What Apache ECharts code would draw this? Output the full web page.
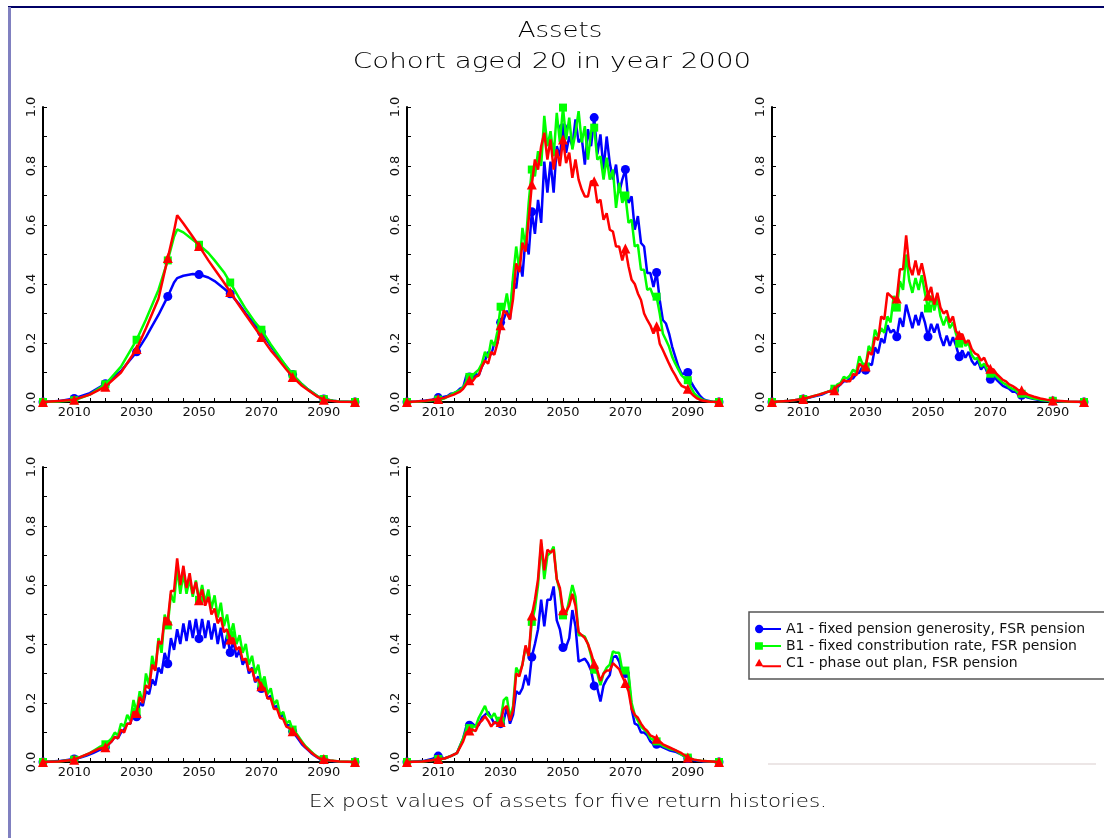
<!DOCTYPE html>
<html><head><meta charset="utf-8">
<script src="https://cdn.jsdelivr.net/npm/echarts@6/dist/echarts.min.js"></script>
<style>html,body{margin:0;padding:0;background:#fff}#c{width:1104px;height:838px}</style>
</head><body><div id="c"></div>
<script>
// ---------- data ----------
const seriesNames = ['A1 - fixed pension generosity, FSR pension','B1 - fixed constribution rate, FSR pension','C1 - phase out plan, FSR pension'];
const xLabelYears = [2010,2030,2050,2070,2090];
const titleLines = ['Assets','Cohort aged 20 in year 2000'];
const footText = 'Ex post values of assets for five return histories.';

// Panel 1
const p1A = [[2000,0],[2005,0.003],[2010,0.012],[2015,0.03],[2020,0.062],[2025,0.105],[2030,0.17],[2033,0.22],[2035,0.258],[2037,0.295],[2040,0.358],[2042,0.405],[2043,0.42],[2045,0.428],[2048,0.434],[2050,0.432],[2053,0.422],[2055,0.41],[2058,0.385],[2060,0.367],[2063,0.33],[2065,0.3],[2068,0.26],[2070,0.237],[2073,0.19],[2075,0.16],[2078,0.12],[2080,0.093],[2083,0.06],[2085,0.042],[2088,0.02],[2090,0.01],[2093,0.004],[2095,0.002],[2100,0]];
const p1B = [[2000,0],[2005,0.002],[2010,0.006],[2015,0.025],[2020,0.06],[2025,0.12],[2030,0.211],[2033,0.28],[2035,0.33],[2037,0.38],[2040,0.48],[2042,0.56],[2043,0.585],[2045,0.575],[2048,0.55],[2050,0.533],[2053,0.505],[2055,0.48],[2058,0.44],[2060,0.405],[2063,0.35],[2065,0.315],[2068,0.27],[2070,0.245],[2073,0.195],[2075,0.165],[2078,0.12],[2080,0.094],[2083,0.06],[2085,0.042],[2088,0.02],[2090,0.01],[2093,0.004],[2095,0.002],[2100,0]];
const p1C = [[2000,0],[2005,0.003],[2010,0.008],[2015,0.025],[2020,0.052],[2025,0.1],[2030,0.18],[2033,0.25],[2035,0.3],[2037,0.35],[2040,0.488],[2042,0.58],[2043,0.633],[2045,0.605],[2048,0.56],[2050,0.529],[2053,0.48],[2055,0.45],[2058,0.405],[2060,0.373],[2063,0.325],[2065,0.295],[2068,0.25],[2070,0.22],[2073,0.175],[2075,0.15],[2078,0.11],[2080,0.085],[2083,0.055],[2085,0.04],[2088,0.018],[2090,0.008],[2093,0.003],[2095,0.001],[2100,0]];

// Panel 2
const p2A = [[2000,0],[2003,0.002],[2006,0.005],[2008,0.008],[2009,0.01],[2010,0.015],[2011,0.012],[2012,0.018],[2013,0.02],[2014,0.028],[2015,0.03],[2016,0.035],[2017,0.045],[2018,0.05],[2019,0.088],[2020,0.085],[2021,0.075],[2022,0.095],[2023,0.09],[2024,0.12],[2025,0.14],[2026,0.17],[2027,0.16],[2028,0.2],[2029,0.2],[2030,0.27],[2031,0.28],[2032,0.31],[2033,0.28],[2034,0.41],[2035,0.385],[2036,0.48],[2037,0.425],[2038,0.56],[2039,0.5],[2040,0.645],[2041,0.57],[2042,0.685],[2043,0.607],[2044,0.815],[2045,0.71],[2046,0.815],[2047,0.71],[2048,0.867],[2049,0.833],[2050,0.93],[2051,0.845],[2052,0.9],[2053,0.867],[2054,0.958],[2055,0.88],[2056,0.895],[2057,0.805],[2058,0.925],[2059,0.867],[2060,0.964],[2061,0.84],[2062,0.907],[2063,0.788],[2064,0.9],[2065,0.81],[2066,0.754],[2067,0.805],[2068,0.709],[2069,0.754],[2070,0.788],[2071,0.675],[2072,0.697],[2073,0.584],[2074,0.63],[2075,0.539],[2076,0.527],[2077,0.437],[2078,0.437],[2079,0.39],[2080,0.439],[2081,0.346],[2082,0.278],[2083,0.266],[2084,0.232],[2085,0.187],[2086,0.153],[2087,0.119],[2088,0.096],[2089,0.096],[2090,0.1],[2091,0.068],[2092,0.05],[2093,0.035],[2094,0.02],[2095,0.01],[2096,0.005],[2098,0.001],[2100,0]];
const p2B = [[2000,0],[2003,0.001],[2006,0.003],[2010,0.008],[2012,0.012],[2015,0.03],[2017,0.04],[2018,0.05],[2019,0.07],[2020,0.085],[2021,0.09],[2022,0.1],[2023,0.11],[2024,0.13],[2025,0.17],[2026,0.15],[2027,0.21],[2028,0.19],[2029,0.24],[2030,0.323],[2031,0.31],[2032,0.368],[2033,0.3],[2034,0.425],[2035,0.527],[2036,0.448],[2037,0.59],[2038,0.527],[2039,0.675],[2040,0.788],[2041,0.765],[2042,0.85],[2043,0.8],[2044,0.97],[2045,0.867],[2046,0.918],[2047,0.833],[2048,0.98],[2049,0.88],[2050,0.998],[2051,0.89],[2052,0.964],[2053,0.856],[2054,0.913],[2055,0.986],[2056,0.88],[2057,0.935],[2058,0.822],[2059,0.918],[2060,0.93],[2061,0.822],[2062,0.833],[2063,0.754],[2064,0.828],[2065,0.754],[2066,0.788],[2067,0.658],[2068,0.743],[2069,0.675],[2070,0.7],[2071,0.607],[2072,0.618],[2073,0.527],[2074,0.533],[2075,0.448],[2076,0.448],[2077,0.38],[2078,0.385],[2079,0.357],[2080,0.357],[2081,0.3],[2082,0.232],[2083,0.21],[2084,0.187],[2085,0.153],[2086,0.13],[2087,0.11],[2088,0.09],[2089,0.08],[2090,0.074],[2091,0.05],[2092,0.03],[2093,0.02],[2094,0.012],[2095,0.006],[2097,0.002],[2100,0]];
const p2C = [[2000,0],[2003,0.002],[2006,0.004],[2010,0.01],[2012,0.014],[2015,0.025],[2017,0.035],[2018,0.045],[2019,0.06],[2020,0.074],[2021,0.07],[2022,0.085],[2023,0.09],[2024,0.12],[2025,0.14],[2026,0.13],[2027,0.17],[2028,0.16],[2029,0.2],[2030,0.26],[2031,0.31],[2032,0.3],[2033,0.28],[2034,0.35],[2035,0.47],[2036,0.44],[2037,0.54],[2038,0.51],[2039,0.618],[2040,0.737],[2041,0.822],[2042,0.788],[2043,0.867],[2044,0.913],[2045,0.822],[2046,0.89],[2047,0.788],[2048,0.856],[2049,0.8],[2050,0.89],[2051,0.81],[2052,0.845],[2053,0.76],[2054,0.822],[2055,0.754],[2056,0.72],[2057,0.697],[2058,0.697],[2059,0.748],[2060,0.748],[2061,0.675],[2062,0.686],[2063,0.618],[2064,0.64],[2065,0.584],[2066,0.578],[2067,0.527],[2068,0.527],[2069,0.48],[2070,0.52],[2071,0.46],[2072,0.414],[2073,0.4],[2074,0.368],[2075,0.346],[2076,0.3],[2077,0.278],[2078,0.26],[2079,0.232],[2080,0.257],[2081,0.198],[2082,0.176],[2083,0.153],[2084,0.13],[2085,0.108],[2086,0.09],[2087,0.07],[2088,0.055],[2089,0.05],[2090,0.045],[2091,0.03],[2092,0.02],[2093,0.012],[2094,0.007],[2095,0.004],[2097,0.001],[2100,0]];

// Panel 3
const p3A = [[2000,0],[2005,0.003],[2010,0.01],[2012,0.015],[2014,0.02],[2016,0.025],[2018,0.035],[2020,0.04],[2021,0.05],[2022,0.06],[2023,0.07],[2024,0.07],[2025,0.08],[2026,0.08],[2027,0.095],[2028,0.1],[2029,0.12],[2030,0.108],[2031,0.13],[2032,0.125],[2033,0.185],[2034,0.165],[2035,0.215],[2036,0.2],[2037,0.26],[2038,0.235],[2039,0.245],[2040,0.221],[2041,0.285],[2042,0.255],[2043,0.33],[2044,0.29],[2045,0.25],[2046,0.295],[2047,0.26],[2048,0.305],[2049,0.27],[2050,0.221],[2051,0.265],[2052,0.235],[2053,0.265],[2054,0.22],[2055,0.19],[2056,0.225],[2057,0.19],[2058,0.22],[2059,0.19],[2060,0.153],[2061,0.175],[2062,0.15],[2063,0.17],[2064,0.14],[2065,0.125],[2066,0.14],[2067,0.11],[2068,0.125],[2069,0.1],[2070,0.077],[2071,0.09],[2072,0.075],[2073,0.065],[2074,0.055],[2075,0.05],[2076,0.045],[2077,0.035],[2078,0.035],[2079,0.025],[2080,0.023],[2082,0.015],[2084,0.01],[2086,0.006],[2088,0.004],[2090,0.003],[2095,0.001],[2100,0]];
const p3B = [[2000,0],[2005,0.003],[2010,0.01],[2015,0.025],[2018,0.035],[2020,0.045],[2021,0.06],[2022,0.065],[2023,0.085],[2024,0.08],[2025,0.09],[2026,0.11],[2027,0.1],[2028,0.155],[2029,0.13],[2030,0.12],[2031,0.19],[2032,0.17],[2033,0.245],[2034,0.22],[2035,0.25],[2036,0.235],[2037,0.29],[2038,0.27],[2039,0.36],[2040,0.32],[2041,0.41],[2042,0.38],[2043,0.5],[2044,0.41],[2045,0.37],[2046,0.42],[2047,0.38],[2048,0.43],[2049,0.37],[2050,0.317],[2051,0.36],[2052,0.31],[2053,0.35],[2054,0.29],[2055,0.26],[2056,0.29],[2057,0.25],[2058,0.27],[2059,0.23],[2060,0.198],[2061,0.215],[2062,0.19],[2063,0.2],[2064,0.16],[2065,0.145],[2066,0.15],[2067,0.12],[2068,0.13],[2069,0.11],[2070,0.096],[2071,0.1],[2072,0.085],[2073,0.075],[2074,0.065],[2075,0.06],[2076,0.05],[2077,0.045],[2078,0.04],[2079,0.03],[2080,0.028],[2082,0.018],[2084,0.012],[2086,0.008],[2088,0.005],[2090,0.004],[2095,0.001],[2100,0]];
const p3C = [[2000,0],[2005,0.003],[2010,0.01],[2015,0.025],[2018,0.035],[2020,0.04],[2021,0.055],[2022,0.06],[2023,0.075],[2024,0.07],[2025,0.07],[2026,0.095],[2027,0.09],[2028,0.13],[2029,0.12],[2030,0.12],[2031,0.17],[2032,0.16],[2033,0.22],[2034,0.21],[2035,0.29],[2036,0.28],[2037,0.37],[2038,0.36],[2039,0.35],[2040,0.351],[2041,0.45],[2042,0.45],[2043,0.565],[2044,0.46],[2045,0.43],[2046,0.48],[2047,0.43],[2048,0.47],[2049,0.42],[2050,0.36],[2051,0.39],[2052,0.33],[2053,0.37],[2054,0.32],[2055,0.3],[2056,0.31],[2057,0.27],[2058,0.29],[2059,0.24],[2060,0.227],[2061,0.23],[2062,0.2],[2063,0.21],[2064,0.18],[2065,0.165],[2066,0.16],[2067,0.14],[2068,0.15],[2069,0.125],[2070,0.113],[2071,0.11],[2072,0.095],[2073,0.085],[2074,0.075],[2075,0.07],[2076,0.06],[2077,0.055],[2078,0.048],[2079,0.04],[2080,0.04],[2082,0.025],[2084,0.018],[2086,0.012],[2088,0.008],[2090,0.005],[2095,0.002],[2100,0]];

// Panel 4
const p4A = [[2000,0],[2005,0.003],[2010,0.01],[2012,0.015],[2014,0.022],[2016,0.03],[2018,0.04],[2020,0.05],[2021,0.06],[2022,0.07],[2023,0.085],[2024,0.08],[2025,0.1],[2026,0.11],[2027,0.13],[2028,0.13],[2029,0.175],[2030,0.153],[2031,0.2],[2032,0.19],[2033,0.24],[2034,0.23],[2035,0.28],[2036,0.26],[2037,0.32],[2038,0.3],[2039,0.37],[2040,0.333],[2041,0.42],[2042,0.38],[2043,0.45],[2044,0.4],[2045,0.47],[2046,0.41],[2047,0.48],[2048,0.42],[2049,0.485],[2050,0.418],[2051,0.485],[2052,0.42],[2053,0.48],[2054,0.415],[2055,0.47],[2056,0.4],[2057,0.455],[2058,0.385],[2059,0.43],[2060,0.371],[2061,0.41],[2062,0.355],[2063,0.38],[2064,0.33],[2065,0.35],[2066,0.3],[2067,0.32],[2068,0.27],[2069,0.29],[2070,0.249],[2071,0.26],[2072,0.215],[2073,0.225],[2074,0.185],[2075,0.19],[2076,0.155],[2077,0.16],[2078,0.125],[2079,0.125],[2080,0.104],[2081,0.09],[2082,0.075],[2083,0.06],[2084,0.05],[2085,0.04],[2086,0.03],[2087,0.022],[2088,0.015],[2089,0.01],[2090,0.008],[2092,0.004],[2095,0.001],[2100,0]];
const p4B = [[2000,0],[2005,0.002],[2010,0.008],[2015,0.03],[2018,0.05],[2020,0.06],[2021,0.07],[2022,0.08],[2023,0.1],[2024,0.09],[2025,0.13],[2026,0.12],[2027,0.16],[2028,0.14],[2029,0.21],[2030,0.17],[2031,0.24],[2032,0.2],[2033,0.3],[2034,0.26],[2035,0.36],[2036,0.31],[2037,0.42],[2038,0.37],[2039,0.5],[2040,0.463],[2041,0.57],[2042,0.54],[2043,0.66],[2044,0.57],[2045,0.64],[2046,0.57],[2047,0.62],[2048,0.56],[2049,0.615],[2050,0.55],[2051,0.6],[2052,0.54],[2053,0.585],[2054,0.52],[2055,0.565],[2056,0.49],[2057,0.54],[2058,0.46],[2059,0.5],[2060,0.43],[2061,0.47],[2062,0.4],[2063,0.43],[2064,0.37],[2065,0.4],[2066,0.33],[2067,0.36],[2068,0.3],[2069,0.33],[2070,0.265],[2071,0.29],[2072,0.23],[2073,0.25],[2074,0.195],[2075,0.21],[2076,0.16],[2077,0.17],[2078,0.13],[2079,0.14],[2080,0.11],[2081,0.1],[2082,0.085],[2083,0.07],[2084,0.055],[2085,0.045],[2086,0.035],[2087,0.025],[2088,0.018],[2089,0.012],[2090,0.01],[2092,0.005],[2095,0.002],[2100,0]];
const p4C = [[2000,0],[2005,0.002],[2010,0.008],[2015,0.03],[2018,0.045],[2020,0.05],[2021,0.06],[2022,0.07],[2023,0.085],[2024,0.08],[2025,0.11],[2026,0.1],[2027,0.13],[2028,0.13],[2029,0.17],[2030,0.166],[2031,0.22],[2032,0.2],[2033,0.26],[2034,0.25],[2035,0.33],[2036,0.31],[2037,0.41],[2038,0.4],[2039,0.49],[2040,0.48],[2041,0.58],[2042,0.58],[2043,0.69],[2044,0.6],[2045,0.665],[2046,0.59],[2047,0.64],[2048,0.57],[2049,0.61],[2050,0.548],[2051,0.585],[2052,0.53],[2053,0.56],[2054,0.5],[2055,0.52],[2056,0.47],[2057,0.49],[2058,0.44],[2059,0.45],[2060,0.415],[2061,0.42],[2062,0.38],[2063,0.39],[2064,0.345],[2065,0.35],[2066,0.31],[2067,0.315],[2068,0.275],[2069,0.28],[2070,0.257],[2071,0.25],[2072,0.215],[2073,0.215],[2074,0.18],[2075,0.18],[2076,0.15],[2077,0.145],[2078,0.12],[2079,0.115],[2080,0.104],[2081,0.095],[2082,0.08],[2083,0.065],[2084,0.052],[2085,0.042],[2086,0.032],[2087,0.024],[2088,0.016],[2089,0.011],[2090,0.01],[2092,0.005],[2095,0.002],[2100,0]];

// Panel 5
const p5A = [[2000,0],[2005,0.003],[2008,0.01],[2010,0.02],[2012,0.012],[2014,0.02],[2016,0.03],[2018,0.08],[2019,0.12],[2020,0.125],[2021,0.13],[2022,0.12],[2023,0.125],[2024,0.15],[2025,0.16],[2026,0.17],[2027,0.15],[2028,0.13],[2029,0.14],[2030,0.13],[2031,0.14],[2032,0.185],[2033,0.13],[2034,0.16],[2035,0.24],[2036,0.23],[2037,0.25],[2038,0.295],[2039,0.26],[2040,0.356],[2041,0.4],[2042,0.45],[2043,0.55],[2044,0.46],[2045,0.55],[2046,0.55],[2047,0.595],[2048,0.48],[2049,0.45],[2050,0.388],[2051,0.39],[2052,0.42],[2053,0.515],[2054,0.46],[2055,0.34],[2056,0.345],[2057,0.35],[2058,0.335],[2059,0.31],[2060,0.258],[2061,0.25],[2062,0.205],[2063,0.26],[2064,0.28],[2065,0.295],[2066,0.355],[2067,0.36],[2068,0.34],[2069,0.3],[2070,0.3],[2071,0.29],[2072,0.18],[2073,0.13],[2074,0.125],[2075,0.1],[2076,0.1],[2077,0.09],[2078,0.07],[2079,0.06],[2080,0.06],[2082,0.05],[2084,0.04],[2086,0.035],[2088,0.025],[2090,0.012],[2092,0.006],[2095,0.002],[2100,0]];
const p5B = [[2000,0],[2005,0.002],[2008,0.006],[2010,0.01],[2012,0.012],[2014,0.02],[2016,0.03],[2018,0.08],[2019,0.11],[2020,0.115],[2021,0.12],[2022,0.12],[2023,0.15],[2024,0.17],[2025,0.19],[2026,0.16],[2027,0.15],[2028,0.165],[2029,0.14],[2030,0.14],[2031,0.21],[2032,0.22],[2033,0.15],[2034,0.19],[2035,0.32],[2036,0.3],[2037,0.33],[2038,0.39],[2039,0.36],[2040,0.475],[2041,0.52],[2042,0.6],[2043,0.74],[2044,0.62],[2045,0.7],[2046,0.71],[2047,0.73],[2048,0.62],[2049,0.58],[2050,0.497],[2051,0.5],[2052,0.55],[2053,0.6],[2054,0.56],[2055,0.43],[2056,0.43],[2057,0.425],[2058,0.4],[2059,0.36],[2060,0.313],[2061,0.3],[2062,0.26],[2063,0.3],[2064,0.32],[2065,0.33],[2066,0.375],[2067,0.37],[2068,0.37],[2069,0.31],[2070,0.31],[2071,0.3],[2072,0.2],[2073,0.16],[2074,0.14],[2075,0.12],[2076,0.11],[2077,0.1],[2078,0.08],[2079,0.075],[2080,0.07],[2082,0.055],[2084,0.045],[2086,0.04],[2088,0.025],[2090,0.015],[2092,0.008],[2095,0.003],[2100,0]];
const p5C = [[2000,0],[2005,0.002],[2008,0.006],[2010,0.01],[2012,0.012],[2014,0.02],[2016,0.03],[2018,0.07],[2019,0.1],[2020,0.107],[2021,0.11],[2022,0.105],[2023,0.13],[2024,0.14],[2025,0.155],[2026,0.14],[2027,0.12],[2028,0.135],[2029,0.13],[2030,0.136],[2031,0.18],[2032,0.19],[2033,0.14],[2034,0.175],[2035,0.3],[2036,0.29],[2037,0.33],[2038,0.395],[2039,0.36],[2040,0.497],[2041,0.55],[2042,0.62],[2043,0.755],[2044,0.65],[2045,0.72],[2046,0.71],[2047,0.72],[2048,0.62],[2049,0.59],[2050,0.514],[2051,0.51],[2052,0.53],[2053,0.57],[2054,0.53],[2055,0.44],[2056,0.43],[2057,0.42],[2058,0.4],[2059,0.37],[2060,0.333],[2061,0.31],[2062,0.275],[2063,0.3],[2064,0.31],[2065,0.31],[2066,0.335],[2067,0.325],[2068,0.315],[2069,0.29],[2070,0.268],[2071,0.24],[2072,0.18],[2073,0.16],[2074,0.15],[2075,0.13],[2076,0.115],[2077,0.105],[2078,0.09],[2079,0.085],[2080,0.079],[2082,0.06],[2084,0.05],[2086,0.04],[2088,0.03],[2090,0.015],[2092,0.008],[2095,0.003],[2100,0]];

const panels = [[p1A,p1B,p1C],[p2A,p2B,p2C],[p3A,p3B,p3C],[p4A,p4B,p4C],[p5A,p5B,p5C]];

// ---------- layout & style ----------
const FONT = '"DejaVu Sans", "Liberation Sans", sans-serif';
const colors = ['#0000ff','#00ff00','#ff0000'];
const symbols = ['circle','rect','triangle'];
const symSizes = [9,8,10];
const legendIcons = [
  'path://M0,5A4.5,4.5,0,1,1,9,5A4.5,4.5,0,1,1,0,5ZM8,4H28V6H8Z',
  'path://M0,1H8.5V9H0ZM8,4H28V6H8Z',
  'path://M0,9L4.5,1L9,9ZM8,8H28V10H8Z'
];
const gridPos = [[43,107],[407,107],[772,107],[43,467],[407,467]];
const GW = 312, GH = 295;

const grid = gridPos.map(p => ({left:p[0], top:p[1], width:GW, height:GH}));
const xAxis = gridPos.map((p,i) => ({
  type:'value', gridIndex:i, min:2000, max:2100, interval:10,
  axisLine:{show:true, onZero:false, lineStyle:{color:'#000', width:2}},
  axisTick:{show:true, inside:true, length:4, lineStyle:{color:'#000', width:1}},
  minorTick:{show:true, splitNumber:2, length:4, lineStyle:{color:'#000', width:1}},
  splitLine:{show:false},
  axisLabel:{color:'#111', fontSize:13, fontFamily:FONT, margin:4,
    formatter: v => xLabelYears.indexOf(v) >= 0 ? String(v) : ''}
}));
const yAxis = gridPos.map((p,i) => ({
  type:'value', gridIndex:i, min:0, max:1, interval:0.2,
  axisLine:{show:true, onZero:false, lineStyle:{color:'#000', width:2}},
  axisTick:{show:true, inside:true, length:4, lineStyle:{color:'#000', width:1}},
  minorTick:{show:true, splitNumber:2, length:4, lineStyle:{color:'#000', width:1}},
  splitLine:{show:false},
  axisLabel:{color:'#111', fontSize:13, fontFamily:FONT, margin:5, rotate:90,
    formatter: v => v.toFixed(1)}
}));

const series = [];
panels.forEach((pan, i) => {
  pan.forEach((d, j) => {
    series.push({
      type:'line', name:seriesNames[j], xAxisIndex:i, yAxisIndex:i, data:d,
      symbol:symbols[j], showSymbol:true, showAllSymbol:true,
      symbolSize: v => (v[0] % 10 === 0 ? symSizes[j] : 0),
      lineStyle:{color:colors[j], width:2.5},
      itemStyle:{color:colors[j]},
      z: 2 + j, animation:false, silent:true
    });
  });
});

const chart = echarts.init(document.getElementById('c'), null, {renderer:'canvas'});
chart.setOption({
  backgroundColor:'#fff',
  animation:false,
  grid, xAxis, yAxis, series,
  legend:{
    orient:'vertical', left:749, top:612,
    data: seriesNames.map((n,j) => ({name:n, icon:legendIcons[j]})),
    itemWidth:26, itemHeight:9, itemGap:3,
    padding:[10,40,9,6],
    borderColor:'#555', borderWidth:1.5, borderRadius:0,
    selectedMode:false,
    textStyle:{fontSize:14, color:'#111', fontFamily:FONT, lineHeight:14}
  },
  graphic:[
    {type:'line', shape:{x1:8, y1:7, x2:1104, y2:7}, style:{stroke:'#000066', lineWidth:2}, silent:true},
    {type:'line', shape:{x1:9.5, y1:7, x2:9.5, y2:838}, style:{stroke:'#8080c0', lineWidth:3}, silent:true},
    {type:'line', shape:{x1:768, y1:764, x2:1096, y2:764}, style:{stroke:'#ece6e6', lineWidth:2}, silent:true},
    {type:'text', x:560, y:32, scaleX:1.24, style:{text:titleLines[0], align:'center', verticalAlign:'middle', fontSize:21, fontFamily:FONT, fontWeight:200, fill:'#000'}, silent:true},
    {type:'text', x:552, y:63, scaleX:1.32, style:{text:titleLines[1], align:'center', verticalAlign:'middle', fontSize:21, fontFamily:FONT, fontWeight:200, fill:'#000'}, silent:true},
    {type:'text', x:568, y:803, scaleX:1.26, style:{text:footText, align:'center', verticalAlign:'middle', fontSize:17, fontFamily:FONT, fontWeight:200, fill:'#000'}, silent:true}
  ]
});
</script>
</body></html>
